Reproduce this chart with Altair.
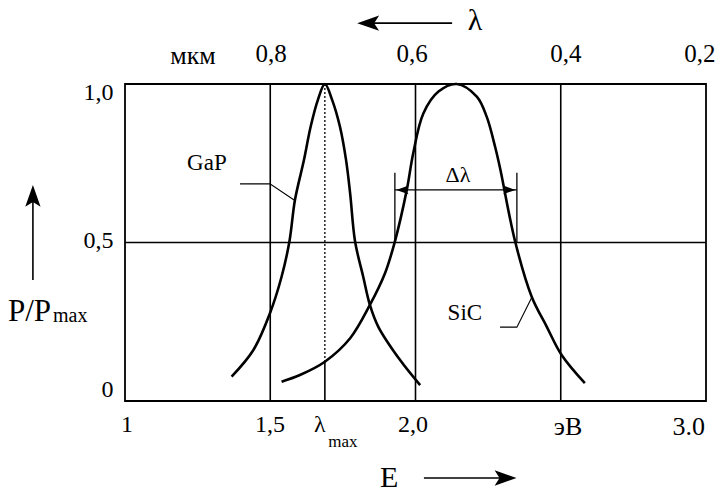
import altair as alt
import pandas as pd

# ---------------- data ----------------
# GaP emission curve (photon energy E in eV, relative power P/Pmax)
gap_E = [1.367, 1.442, 1.499, 1.539, 1.566, 1.585, 1.616, 1.639, 1.664, 1.688,
         1.713, 1.740, 1.761, 1.775, 1.792, 1.820, 1.843, 1.872, 1.947, 2.016]
gap_P = [0.077, 0.161, 0.277, 0.392, 0.503, 0.634, 0.760, 0.865, 0.950, 1.000,
         0.950, 0.865, 0.760, 0.655, 0.503, 0.392, 0.303, 0.234, 0.129, 0.050]

# SiC emission curve
sic_E = [1.539, 1.602, 1.688, 1.775, 1.843, 1.895, 1.929, 1.970, 1.992, 2.027,
         2.079, 2.142, 2.211, 2.245, 2.274, 2.291, 2.343, 2.400, 2.452, 2.503, 2.583]
sic_P = [0.061, 0.082, 0.124, 0.198, 0.303, 0.403, 0.503, 0.666, 0.781, 0.907,
         0.976, 1.000, 0.960, 0.897, 0.802, 0.735, 0.503, 0.329, 0.234, 0.145, 0.056]

grid_E = [1.5, 2.0, 2.5]
grid_P = [0.5]
lambda_max_E = 1.688

left_labels = ["1,0", "0,5", "0"]
left_label_P = [0.972, 0.505, 0.035]
bottom_labels = ["1", "1,5", "2,0", "эВ", "3.0"]
bottom_label_E = [1.007, 1.499, 1.991, 2.525, 2.941]
top_labels = ["мкм", "0,8", "0,6", "0,4", "0,2"]
top_label_E = [1.234, 1.503, 1.988, 2.518, 2.979]

# half-width markers (Δλ)
dl_E = [1.929, 2.349]
dl_P = [0.5, 0.72]
dl_arrow_P = 0.666

FONT = "Liberation Serif, Times New Roman, DejaVu Serif, serif"
xs = alt.Scale(domain=[1, 3], nice=False, zero=False)
ys = alt.Scale(domain=[0, 1], nice=False, zero=False)
X = lambda f="E": alt.X(f"{f}:Q", scale=xs, axis=None)
Y = lambda f="P": alt.Y(f"{f}:Q", scale=ys, axis=None)

ARROW = "M1,0 L-1,-0.7 L-0.55,0 L-1,0.7 Z"

layers = []

# grid rules
layers.append(alt.Chart(pd.DataFrame({"E": grid_E})).mark_rule(color="black", strokeWidth=1.6)
              .encode(x=X(), y=alt.value(0), y2=alt.value(317)))
layers.append(alt.Chart(pd.DataFrame({"P": grid_P})).mark_rule(color="black", strokeWidth=1.6)
              .encode(y=Y(), x=alt.value(0), x2=alt.value(581)))

# lambda_max marker: dotted upper part, solid lower part
layers.append(alt.Chart(pd.DataFrame({"E": [lambda_max_E], "P": [1.0], "P2": [0.123]}))
              .mark_rule(color="black", strokeWidth=1.3, strokeDash=[2, 2])
              .encode(x=X(), y=Y(), y2="P2:Q"))
layers.append(alt.Chart(pd.DataFrame({"E": [lambda_max_E], "P": [0.123], "P2": [0.0]}))
              .mark_rule(color="black", strokeWidth=1.6)
              .encode(x=X(), y=Y(), y2="P2:Q"))

# curves
for E, P in [(gap_E, gap_P), (sic_E, sic_P)]:
    df = pd.DataFrame({"E": E, "P": P, "i": range(len(E))})
    layers.append(alt.Chart(df).mark_line(color="black", strokeWidth=2.6, interpolate="catmull-rom")
                  .encode(x=X(), y=Y(), order="i:Q"))

# Δλ vertical markers and double arrow
layers.append(alt.Chart(pd.DataFrame({"E": dl_E, "P": [dl_P[0]] * 2, "P2": [dl_P[1]] * 2}))
              .mark_rule(color="black", strokeWidth=1.3).encode(x=X(), y=Y(), y2="P2:Q"))
layers.append(alt.Chart(pd.DataFrame({"E": [dl_E[0]], "E2": [dl_E[1]], "P": [dl_arrow_P]}))
              .mark_rule(color="black", strokeWidth=1.3).encode(x=X(), x2="E2:Q", y=Y()))
layers.append(alt.Chart(pd.DataFrame({"E": [1.955, 2.323], "P": [dl_arrow_P] * 2, "a": [180, 0]}))
              .mark_point(shape=ARROW, filled=True, color="black", size=150, opacity=1)
              .encode(x=X(), y=Y(), angle=alt.Angle("a:Q", scale=None)))

# leader lines for GaP and SiC labels
for E, P in [([1.396, 1.499, 1.582], [0.685, 0.685, 0.634]),
             ([2.291, 2.349, 2.401], [0.233, 0.233, 0.328])]:
    df = pd.DataFrame({"E": E, "P": P, "i": range(3)})
    layers.append(alt.Chart(df).mark_line(color="black", strokeWidth=1.1)
                  .encode(x=X(), y=Y(), order="i:Q"))

# axis arrows (λ, E, P/Pmax)
arrow_lines = pd.DataFrame({"E": [2.126, 2.029, 0.683], "E2": [1.837, 2.310, 0.683],
                            "P": [1.192, -0.243, 0.382], "P2": [1.192, -0.243, 0.647]})
layers.append(alt.Chart(arrow_lines).mark_rule(color="black", strokeWidth=1.6)
              .encode(x=X(), x2="E2:Q", y=Y(), y2="P2:Q"))
arrow_heads = pd.DataFrame({"E": [1.837, 2.310, 0.683], "P": [1.192, -0.243, 0.647],
                            "a": [180, 0, 270]})
layers.append(alt.Chart(arrow_heads)
              .mark_point(shape=ARROW, filled=True, color="black", size=480, opacity=1)
              .encode(x=X(), y=Y(), angle=alt.Angle("a:Q", scale=None)))


def text(df, size, align="center", baseline="middle"):
    return (alt.Chart(df).mark_text(font=FONT, fontSize=size, align=align,
                                    baseline=baseline, color="black")
            .encode(x=X(), y=Y(), text="t:N"))


# tick labels
layers.append(text(pd.DataFrame({"t": left_labels, "E": [0.96] * 3, "P": left_label_P}), 24, "right"))
layers.append(text(pd.DataFrame({"t": bottom_labels[:3], "E": bottom_label_E[:3],
                                 "P": [-0.076] * 3}), 24))
layers.append(text(pd.DataFrame({"t": bottom_labels[3:], "E": bottom_label_E[3:],
                                 "P": [-0.082, -0.082]}), 26))
layers.append(text(pd.DataFrame({"t": top_labels[:1], "E": top_label_E[:1], "P": [1.088]}), 26))
layers.append(text(pd.DataFrame({"t": top_labels[1:], "E": top_label_E[1:], "P": [1.095] * 4}), 25))

# λmax label
layers.append(text(pd.DataFrame({"t": ["λ"], "E": [1.671], "P": [-0.076]}), 24))
layers.append(text(pd.DataFrame({"t": ["max"], "E": [1.750], "P": [-0.129]}), 17))

# axis names
layers.append(text(pd.DataFrame({"t": ["λ"], "E": [2.205], "P": [1.199]}), 30))
layers.append(text(pd.DataFrame({"t": ["E"], "E": [1.909], "P": [-0.243]}), 30))
layers.append(text(pd.DataFrame({"t": ["P/P"], "E": [0.597], "P": [0.281]}), 31, "left"))
layers.append(text(pd.DataFrame({"t": ["max"], "E": [0.752], "P": [0.268]}), 20, "left"))

# curve labels
layers.append(text(pd.DataFrame({"t": ["GaP"], "E": [1.282], "P": [0.751]}), 23))
layers.append(text(pd.DataFrame({"t": ["SiC"], "E": [2.170], "P": [0.278]}), 23))
layers.append(text(pd.DataFrame({"t": ["Δλ"], "E": [2.146], "P": [0.713]}), 22))

chart = (alt.layer(*layers)
         .properties(width=581, height=317, autosize="none",
                     padding={"left": 125, "top": 84, "right": 12, "bottom": 92},
                     background="white")
         .configure_view(stroke="black", strokeWidth=1.8))

chart.save("out.html", embed_options={"renderer": "svg", "actions": False})
